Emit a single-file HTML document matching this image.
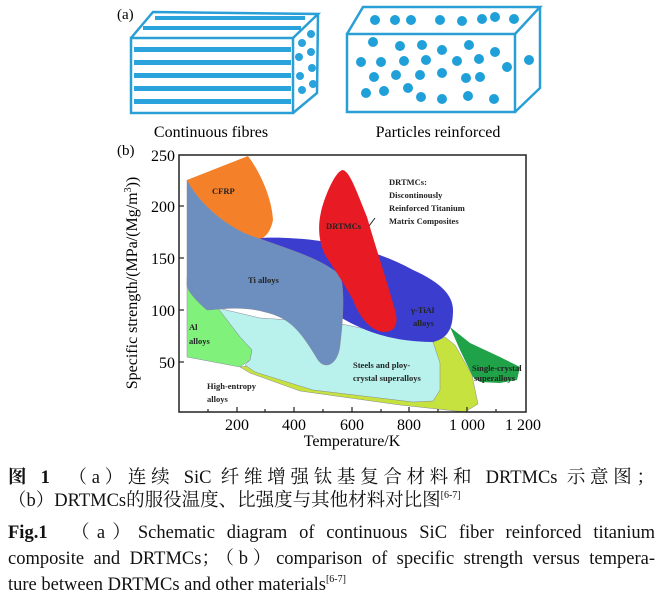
<!DOCTYPE html>
<html><head><meta charset="utf-8"><style>
html,body{margin:0;padding:0;background:#fff}
svg{display:block}
.s{font-family:"Liberation Serif","Noto Serif CJK SC",serif}
.b{font-family:"Liberation Serif",serif;font-weight:bold;font-size:8.5px;fill:#222}
.cap{position:absolute;left:8px;width:647px;font-family:"Liberation Serif","Noto Serif CJK SC",serif;font-size:18.5px;line-height:22px;white-space:nowrap;color:#111}
.j{text-align:justify;text-align-last:justify;white-space:normal}
sup{font-size:10px;vertical-align:8px;line-height:0}
</style></head><body>
<div style="position:relative;width:660px;height:607px;overflow:hidden">
<svg width="660" height="607" viewBox="0 0 660 607" xmlns="http://www.w3.org/2000/svg" style="position:absolute;left:0;top:0">
<text x="117" y="19" class="s" font-size="15">(a)</text>
<g stroke="#2a9fd6" stroke-width="2.5" fill="none">
<rect x="131" y="38" width="162" height="75"/>
<polyline points="131,38 153,12 318,14 293,38"/>
<polyline points="318,14 317,93 293,113"/>
</g>
<g fill="#2aa3dc">
<rect x="155" y="16" width="150" height="4"/><rect x="143" y="26" width="158" height="4"/>
<rect x="134" y="47" width="157" height="5"/><rect x="134" y="60" width="157" height="5"/>
<rect x="134" y="73" width="157" height="5"/><rect x="134" y="86" width="157" height="5"/>
<rect x="134" y="99" width="157" height="5"/>
<circle cx="302" cy="43" r="4"/><circle cx="311" cy="34" r="4"/><circle cx="299" cy="57" r="4"/>
<circle cx="311" cy="52" r="4"/><circle cx="300" cy="76" r="4"/><circle cx="312" cy="68" r="4"/>
<circle cx="302" cy="90" r="4"/><circle cx="313" cy="84" r="4"/>
</g>
<g stroke="#2a9fd6" stroke-width="2.5" fill="none">
<rect x="347" y="34" width="168" height="78"/>
<polyline points="347,34 363,7 540,7 515,34"/>
<polyline points="540,7 540,88 515,112"/>
</g>
<g fill="#1fa0d8">
<circle cx="375" cy="20" r="5"/><circle cx="395" cy="20" r="5"/><circle cx="411" cy="20" r="5"/>
<circle cx="440" cy="20" r="5"/><circle cx="462" cy="21" r="5"/><circle cx="482" cy="19" r="5"/><circle cx="495" cy="17" r="5"/><circle cx="514" cy="19" r="5"/>
<circle cx="373" cy="42" r="5"/><circle cx="400" cy="46" r="5"/><circle cx="422" cy="45" r="5"/><circle cx="442" cy="50" r="5"/><circle cx="469" cy="45" r="5"/><circle cx="495" cy="52" r="5"/>
<circle cx="361" cy="62" r="5"/><circle cx="381" cy="62" r="5"/><circle cx="404" cy="61" r="5"/><circle cx="426" cy="60" r="5"/><circle cx="457" cy="61" r="5"/><circle cx="479" cy="59" r="5"/><circle cx="507" cy="67" r="5"/><circle cx="529" cy="60" r="5"/>
<circle cx="374" cy="77" r="5"/><circle cx="396" cy="75" r="5"/><circle cx="420" cy="75" r="5"/><circle cx="442" cy="73" r="5"/><circle cx="466" cy="78" r="5"/><circle cx="480" cy="77" r="5"/>
<circle cx="366" cy="93" r="5"/><circle cx="384" cy="91" r="5"/><circle cx="408" cy="88" r="5"/><circle cx="421" cy="97" r="5"/><circle cx="442" cy="99" r="5"/><circle cx="468" cy="96" r="5"/><circle cx="494" cy="99" r="5"/>
</g>
<text x="211" y="137" class="s" font-size="16" text-anchor="middle">Continuous fibres</text>
<text x="438" y="137" class="s" font-size="16" text-anchor="middle">Particles reinforced</text>

<text x="117" y="155" class="s" font-size="15">(b)</text>
<path d="M240,367 L250,373 L300,391 L400,405 L465,412 L478,404 L472,375 L455,345 L445,337 L433,342 Z" fill="#c6e23e" stroke="#889" stroke-width="0.5"/>
<path d="M450,327 L470,343 L500,357 L520,367 L517,380 L500,383 L480,382 L473,377 L460,350 Z" fill="#20a348"/>
<path d="M205,305 L260,318 L337,323 L380,332 L433,342 L440,363 L440,390 L433,401 L413,402 L313,390 L255,372 L245,365 L250,360 L252,350 L240,337 L217,307 Z" fill="#b9f1ec" stroke="#889" stroke-width="0.5"/>
<path d="M187,277 L193,283 L217,307 L240,337 L252,350 L250,360 L240,367 L187,357 Z" fill="#80f27c" stroke="#889" stroke-width="0.5"/>
<path d="M258,238 C290,236 360,240 413,270 C440,282 453,295 453,310 C453,325 450,338 433,342 C400,342 370,335 340,317 C320,300 310,280 300,265 Z" fill="#3b3dcf"/>
<path d="M187,180 C200,205 230,230 258,238 C290,250 320,258 340,275 C345,290 343,320 340,345 C338,365 325,370 318,360 C300,330 290,318 265,312 C240,305 215,310 207,310 C195,300 187,290 187,285 Z" fill="#6d8fbf" stroke="#889" stroke-width="0.5"/>
<path d="M187,180 L248,156 C262,175 272,200 273,220 C270,235 262,240 258,238 C230,230 200,205 187,180 Z" fill="#f5802a"/>
<path d="M343,170 C350,172 356,190 367,217 C375,245 385,275 395,310 C399,325 395,332 383,332 C370,330 360,318 353,300 C345,285 335,270 325,255 C318,240 318,225 321,212 C325,195 336,170 343,170 Z" fill="#e81b24"/>
<line x1="369" y1="226" x2="375" y2="218" stroke="#222" stroke-width="1"/>
<rect x="179" y="155" width="347" height="257" fill="none" stroke="#222" stroke-width="1.5"/>
<g stroke="#222" stroke-width="1.2">
<line x1="179" y1="206" x2="184" y2="206"/><line x1="179" y1="258" x2="184" y2="258"/><line x1="179" y1="310" x2="184" y2="310"/><line x1="179" y1="362" x2="184" y2="362"/>
<line x1="208" y1="412" x2="208" y2="409"/><line x1="237" y1="412" x2="237" y2="407"/><line x1="265" y1="412" x2="265" y2="409"/><line x1="294" y1="412" x2="294" y2="407"/><line x1="323" y1="412" x2="323" y2="409"/><line x1="352" y1="412" x2="352" y2="407"/><line x1="381" y1="412" x2="381" y2="409"/><line x1="409" y1="412" x2="409" y2="407"/><line x1="438" y1="412" x2="438" y2="409"/><line x1="467" y1="412" x2="467" y2="407"/><line x1="496" y1="412" x2="496" y2="409"/>
</g>
<g class="s" font-size="16" text-anchor="end">
<text x="175" y="161">250</text><text x="175" y="212">200</text><text x="175" y="264">150</text><text x="175" y="316">100</text><text x="175" y="368">50</text>
</g>
<g class="s" font-size="16" text-anchor="middle">
<text x="237" y="430">200</text><text x="294" y="430">400</text><text x="352" y="430">600</text><text x="409" y="430">800</text><text x="467" y="430">1 000</text><text x="523" y="430">1 200</text>
<text x="352" y="446">Temperature/K</text>
</g>
<text transform="translate(137,283) rotate(-90)" class="s" font-size="16" text-anchor="middle">Specific strength/(MPa/(Mg/m<tspan dy="-6" font-size="10">3</tspan><tspan dy="6">))</tspan></text>
<text x="212" y="194" class="b">CFRP</text>
<text x="248" y="283" class="b">Ti alloys</text>
<text x="326" y="229" class="b">DRTMCs</text>
<text x="389" y="185" class="b">DRTMCs:</text>
<text x="389" y="198" class="b">Discontinously</text>
<text x="389" y="211" class="b">Reinforced Titanium</text>
<text x="389" y="224" class="b">Matrix Composites</text>
<text x="411" y="313" class="b">γ-TiAl</text>
<text x="413" y="326" class="b">alloys</text>
<text x="189" y="330" class="b">Al</text>
<text x="189" y="344" class="b">alloys</text>
<text x="353" y="368" class="b">Steels and ploy-</text>
<text x="353" y="381" class="b">crystal superalloys</text>
<text x="207" y="389" class="b">High-entropy</text>
<text x="207" y="402" class="b">alloys</text>
<text x="472" y="371" class="b" font-size="6.5">Single-crystal</text>
<text x="474" y="381" class="b" font-size="6.5">superalloys</text>
</svg>
<div class="cap j" style="top:467px"><b>图 1</b>　（a）连续 SiC 纤维增强钛基复合材料和 DRTMCs 示意图；</div>
<div class="cap" style="top:490px">（b）DRTMCs的服役温度、比强度与其他材料对比图<sup>[6-7]</sup></div>
<div class="cap j" style="top:522px"><b>Fig.1</b>　（a）Schematic diagram of continuous SiC fiber reinforced titanium</div>
<div class="cap j" style="top:548px">composite and DRTMCs；（b）comparison of specific strength versus tempera-</div>
<div class="cap" style="top:574px">ture between DRTMCs and other materials<sup>[6-7]</sup></div>
</div>
</body></html>
